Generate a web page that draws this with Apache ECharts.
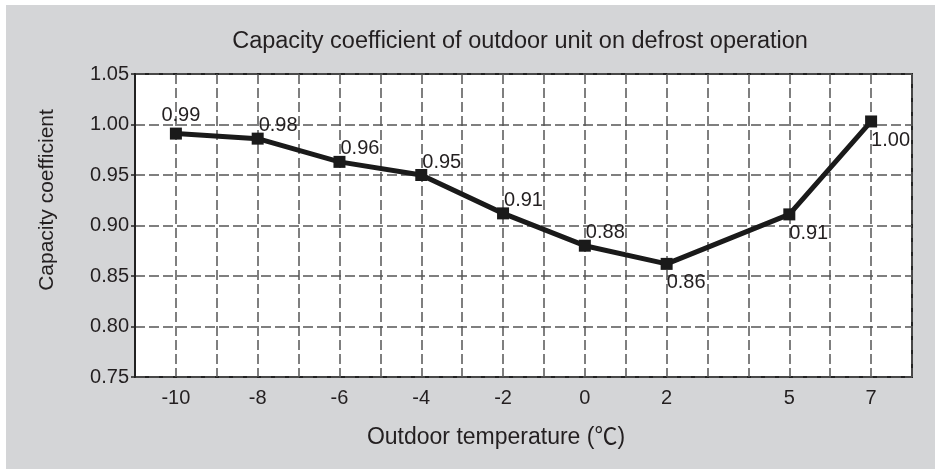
<!DOCTYPE html>
<html>
<head>
<meta charset="utf-8">
<script src="https://cdn.jsdelivr.net/npm/echarts@6/dist/echarts.min.js"></script>
<style>
  html, body { margin: 0; padding: 0; background: #fff; }
  #chart { position: absolute; left: 6px; top: 5px; width: 929px; height: 464px; background: #d4d5d7; }
</style>
</head>
<body>
<div id="chart"></div>
<script>
// outdoor temperature (°C) and capacity coefficient
const temps = [-10, -8, -6, -4, -2, 0, 2, 5, 7]
const coefficients = [0.991, 0.986, 0.963, 0.950, 0.912, 0.880, 0.862, 0.911, 1.003]
const valueLabels = ['0.99', '0.98', '0.96', '0.95', '0.91', '0.88', '0.86', '0.91', '1.00']
const xTickLabels = [-10, -8, -6, -4, -2, 0, 2, 5, 7]

const FONT = '"Liberation Sans", Arial, "Noto Sans CJK SC", sans-serif'
const INK = '#231f20'

const chart = echarts.init(document.getElementById('chart'))

// where each value label sits relative to its point
const labelFor = (i) => {
  const base = {show: true, formatter: valueLabels[i], color: INK, fontSize: 20, fontFamily: FONT}
  if (i === 0) {
    return {...base, position: 'top', distance: 2, offset: [5, 0]}
  }
  if (i >= 6) {
    return {...base, position: [6, 15], align: 'left', verticalAlign: 'top'}
  }
  return {...base, position: [7, 3], align: 'left', verticalAlign: 'bottom'}
}

const points = temps.map((t, i) => ({
  value: [t, coefficients[i]],
  label: labelFor(i),
}))

const dashed = {
  show: true,
  lineStyle: {
    color: '#555',
    width: 1.5,
    type: [10, 4],
  },
}

chart.setOption({
  animation: false,
  title: {
    text: 'Capacity coefficient of outdoor unit on defrost operation',
    left: 509,
    top: 20,
    textAlign: 'center',
    textStyle: {
      color: INK,
      fontSize: 23.5,
      fontWeight: 'normal',
      fontFamily: FONT,
    },
  },
  graphic: [
    {
      type: 'text',
      x: 41,
      y: 195,
      rotation: Math.PI / 2,
      style: {
        text: 'Capacity coefficient',
        fill: INK,
        font: '21px ' + FONT,
        align: 'center',
        verticalAlign: 'middle',
      },
    },
    {
      type: 'text',
      x: 490,
      y: 433,
      style: {
        text: 'Outdoor temperature (℃)',
        fill: INK,
        font: '23px ' + FONT,
        align: 'center',
        verticalAlign: 'middle',
      },
    },
  ],
  grid: {
    show: true,
    left: 129,
    top: 69,
    right: 23,
    bottom: 92,
    backgroundColor: '#fff',
    borderColor: '#222',
    borderWidth: 2,
  },
  xAxis: {
    type: 'value',
    min: -11,
    max: 8,
    interval: 1,
    axisLine: {
      show: false,
    },
    axisTick: {
      show: false,
    },
    axisLabel: {
      margin: 11,
      color: INK,
      fontSize: 20,
      fontFamily: FONT,
      formatter: (v) => xTickLabels.includes(v) ? String(v) : '',
    },
    splitLine: dashed,
  },
  yAxis: {
    type: 'value',
    min: 0.75,
    max: 1.05,
    interval: 0.05,
    axisLine: {
      show: true,
      onZero: false,
      lineStyle: {
        color: '#222',
        width: 2,
      },
    },
    axisTick: {
      show: true,
      length: 4,
      lineStyle: {
        color: '#222',
        width: 1.5,
      },
    },
    axisLabel: {
      margin: 6,
      color: INK,
      fontSize: 20,
      fontFamily: FONT,
      formatter: (v) => v.toFixed(2),
    },
    splitLine: dashed,
  },
  series: [
    {
      type: 'line',
      data: points,
      symbol: 'rect',
      symbolSize: 12,
      lineStyle: {
        color: '#1a1a1a',
        width: 5,
      },
      itemStyle: {
        color: '#1a1a1a',
      },
      z: 5,
    },
  ],
})
</script>
</body>
</html>
